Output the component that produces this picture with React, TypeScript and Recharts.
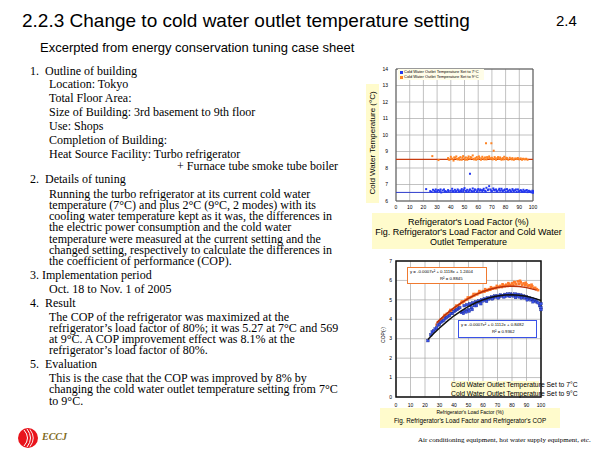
import React from 'react';
import { ScatterChart, Scatter, XAxis, YAxis, CartesianGrid, ReferenceLine, ReferenceArea } from 'recharts';

// ---- data ----
const loadTicks = [0, 10, 20, 30, 40, 50, 60, 70, 80, 90, 100];
const tempTicks = [6, 7, 8, 9, 10, 11, 12, 13, 14];
const copTicks = [0, 1, 2, 3, 4, 5, 6, 7];

const mean7 = 6.52;
const mean9 = 8.52;

// outlet temperature vs load factor, setting 7°C
const temp7 = [
  [22, 6.72], [25, 6.6], [26, 6.55], [27, 6.68], [28, 6.62], [29, 6.7], [30, 6.58], [31, 6.66], [32, 6.6], [33, 6.52],
  [34, 6.64], [35, 6.7], [36, 6.6], [37, 6.56], [38, 6.66], [40, 6.62], [41, 6.74], [42, 6.58], [43, 6.68], [44, 6.6],
  [45, 6.7], [46, 6.56], [47, 6.64], [48, 6.72], [49, 6.6], [50, 6.78], [51, 6.62], [52, 6.68], [53, 6.56], [54, 7.65],
  [54, 6.7], [55, 6.62], [56, 6.76], [57, 6.6], [58, 6.68], [59, 6.56], [60, 6.72], [61, 6.62], [62, 6.66], [63, 6.58],
  [64, 6.74], [65, 6.62], [66, 6.8], [67, 6.66], [68, 6.9], [69, 6.7], [70, 6.6], [71, 6.76], [72, 6.64], [73, 6.7],
  [74, 6.58], [75, 6.68], [76, 6.62], [77, 6.74], [78, 6.6], [79, 6.66], [80, 6.56], [81, 6.72], [82, 6.62], [83, 6.68],
  [84, 6.58], [85, 6.72], [86, 6.6], [87, 6.66], [88, 6.55], [89, 6.7], [90, 6.6], [91, 6.66], [92, 6.56], [93, 6.68],
  [94, 6.6], [95, 6.64], [96, 6.54], [97, 6.62], [98, 6.58], [99, 6.52], [100, 6.6], [100, 6.5],
  [28.5, 6.58], [30.5, 6.64], [32.5, 6.7], [35.5, 6.58], [38.5, 6.6], [41.5, 6.6], [43.5, 6.56], [45.5, 6.64],
  [47.5, 6.6], [49.5, 6.68], [51.5, 6.56], [53.5, 6.64], [55.5, 6.58], [57.5, 6.7], [59.5, 6.64], [61.5, 6.7],
  [63.5, 6.66], [65.5, 6.56], [67.5, 6.7], [69.5, 6.62], [71.5, 6.68], [73.5, 6.6], [75.5, 6.74], [77.5, 6.64],
  [79.5, 6.7], [81.5, 6.58], [83.5, 6.62], [85.5, 6.64], [87.5, 6.7], [89.5, 6.58], [91.5, 6.62], [93.5, 6.56],
  [95.5, 6.66], [97.5, 6.56], [99.5, 6.62],
];

// setting 9°C
const temp9 = [
  [26.5, 8.72], [31, 8.48],
  [38, 8.6], [39, 8.5], [40, 8.68], [41, 8.55], [42, 8.45], [43, 8.62], [44, 8.7], [45, 8.52], [46, 8.6], [47, 8.66],
  [48, 8.5], [49, 8.72], [50, 8.58], [51, 8.64], [52, 8.5], [53, 8.7], [54, 8.56], [55, 8.62], [56, 8.76], [57, 8.52],
  [58, 8.6], [59, 8.66], [60, 8.55], [61, 8.62], [62, 8.5], [63, 8.68], [64, 8.58], [65, 8.64], [65.7, 9.5], [66, 8.52],
  [67, 8.6], [68, 8.7], [69, 8.56], [69.6, 9.5], [70, 8.62], [71, 8.55], [71.3, 9.05], [72, 8.66], [73, 8.5], [74, 8.6],
  [75, 8.56], [76, 8.64], [77, 8.5], [78, 8.6], [79, 8.68], [80, 8.54], [81, 8.6], [82, 8.5], [83, 8.62], [84, 8.56],
  [85, 8.6], [86, 8.5], [87, 8.58], [88, 8.54], [89, 8.6], [90, 8.52], [91, 8.58], [92, 8.5], [93, 8.56], [94, 8.52],
  [95, 8.56], [96, 8.5],
  [38.5, 8.52], [40.5, 8.58], [42.5, 8.64], [44.5, 8.56], [46.5, 8.5], [48.5, 8.62], [50.5, 8.5], [52.5, 8.6],
  [54.5, 8.66], [56.5, 8.56], [58.5, 8.5], [60.5, 8.7], [62.5, 8.58], [64.5, 8.52], [66.5, 8.66], [68.5, 8.6],
  [70.5, 8.52], [72.5, 8.58], [74.5, 8.66], [76.5, 8.56], [78.5, 8.52], [80.5, 8.62], [84.5, 8.52], [88.5, 8.58],
  [92.5, 8.55],
];

// COP vs load factor, setting 9°C
const cop9 = [
  [28, 3.72], [29, 3.85], [30, 3.9], [31, 4.0], [32, 4.05], [33, 4.12], [34, 4.2], [35, 4.28], [36, 4.3], [37, 4.4],
  [38, 4.45], [39, 4.5], [40, 4.55], [41, 4.62], [42, 4.68], [43, 4.7], [44, 4.78], [45, 4.85], [46, 4.88], [47, 4.92],
  [48, 5.0], [49, 5.02], [50, 5.1], [51, 5.12], [52, 5.15], [53, 5.2], [54, 5.22], [55, 5.3], [56, 5.28], [57, 5.35],
  [58, 5.38], [59, 5.4], [60, 5.45], [61, 5.42], [62, 5.5], [63, 5.48], [64, 5.55], [65, 5.52], [66, 5.6], [67, 5.58],
  [68, 5.62], [69, 5.6], [70, 5.68], [71, 5.65], [72, 5.72], [73, 5.66], [74, 5.75], [75, 5.7], [76, 5.78], [77, 5.72],
  [78, 5.8], [79, 5.75], [80, 5.85], [81, 5.78], [82, 5.9], [83, 5.8], [84, 5.95], [85, 5.82], [86, 5.9], [87, 5.78],
  [88, 5.85], [89, 5.75], [90, 5.8], [91, 5.7], [92, 5.75], [93, 5.65], [94, 5.7], [95, 5.6], [96, 5.62], [97, 5.55],
  [98, 5.5],
  [33.5, 4.22], [37.5, 4.48], [41.5, 4.7], [45.5, 4.92], [49.5, 5.12], [53.5, 5.3], [57.5, 5.45], [61.5, 5.55],
  [65.5, 5.65], [69.5, 5.72], [73.5, 5.8], [77.5, 5.86], [81.5, 5.92], [85.5, 5.98], [89.5, 5.88], [93.5, 5.78],
];

// setting 7°C
const cop7 = [
  [22, 2.9], [24, 3.2], [25, 3.35], [26, 3.4], [27, 3.5], [28, 3.55], [29, 3.7], [30, 3.75], [31, 3.85], [32, 3.9],
  [33, 3.95], [34, 4.05], [35, 4.1], [36, 4.15], [37, 4.2], [38, 4.3], [39, 4.3], [40, 4.4], [41, 4.45], [42, 4.5],
  [43, 4.55], [44, 4.6], [45, 4.35], [46, 4.4], [47, 4.7], [48, 4.45], [49, 4.75], [50, 4.5], [51, 4.8], [52, 4.6],
  [53, 4.85], [54, 4.7], [55, 4.9], [56, 4.85], [57, 4.95], [58, 4.9], [59, 5.0], [60, 4.95], [61, 5.05], [62, 5.0],
  [63, 5.1], [64, 5.05], [65, 5.1], [66, 5.15], [67, 5.1], [68, 5.2], [69, 5.15], [70, 5.2], [71, 5.15], [72, 5.25],
  [73, 5.2], [74, 5.22], [75, 5.28], [76, 5.2], [77, 5.3], [78, 5.22], [79, 5.3], [80, 5.25], [81, 5.2], [82, 5.3],
  [83, 5.18], [84, 5.28], [85, 5.15], [86, 5.25], [87, 5.12], [88, 5.2], [89, 5.1], [90, 5.15], [91, 5.05], [92, 5.1],
  [93, 5.0], [94, 5.05], [95, 4.95], [96, 5.0], [97, 4.9], [98, 4.85], [99, 4.7], [100, 4.6], [100, 4.8], [100, 4.5],
  [46.5, 4.3], [48.5, 4.38], [50.5, 4.42], [52.5, 4.5], [55.5, 4.7], [58.5, 4.8], [62.5, 4.92], [66.5, 5.05],
  [70.5, 5.1], [74.5, 5.15], [78.5, 5.18], [82.5, 5.12], [86.5, 5.1], [90.5, 5.0], [94.5, 4.9],
];

// trend curves as drawn
const fit9 = [
  [28, 3.82], [32, 4.1], [36, 4.36], [40, 4.59], [45, 4.85], [50, 5.08], [55, 5.27], [60, 5.43],
  [65, 5.55], [70, 5.64], [75, 5.69], [80, 5.7], [85, 5.69], [90, 5.63], [97, 5.5],
];
const fit7 = [
  [22, 2.96], [26, 3.27], [30, 3.55], [35, 3.88], [40, 4.18], [45, 4.43], [50, 4.66], [55, 4.85], [60, 5.0],
  [65, 5.12], [70, 5.2], [75, 5.25], [80, 5.26], [85, 5.24], [90, 5.19], [95, 5.09], [100, 4.97],
];

const pts = (arr: number[][]) => arr.map(([x, y]) => ({ x, y }));

const serif = '"Liberation Serif", "Times New Roman", serif';
const sans = '"Liberation Sans", Arial, sans-serif';
const cream = '#fffbcc';

// text line placed by the visual middle of its glyphs
function T({ x, y, size, font = serif, children, style }: any) {
  const lh = 0.85;
  return (
    <div
      style={{
        position: 'absolute',
        left: x,
        top: y - size * 0.55 + ((1 - lh) / 2) * size,
        fontSize: size,
        fontFamily: font,
        lineHeight: lh,
        whiteSpace: 'nowrap',
        color: '#000',
        ...style,
      }}
    >
      {children}
    </div>
  );
}

// tight paragraph block; y = middle of the first line
function P({ x, y, gap, lines }: { x: number; y: number; gap: number; lines: string[] }) {
  return (
    <div
      style={{
        position: 'absolute',
        left: x,
        top: y - gap / 2 - 0.6,
        fontSize: 12,
        fontFamily: serif,
        lineHeight: `${gap}px`,
        whiteSpace: 'nowrap',
        color: '#000',
      }}
    >
      {lines.map((l, i) => (
        <React.Fragment key={i}>
          {l}
          {i < lines.length - 1 && <br />}
        </React.Fragment>
      ))}
    </div>
  );
}

const square = (fill: string, s: number, stroke?: string) => (p: any) =>
  <rect x={p.cx - s / 2} y={p.cy - s / 2} width={s} height={s} fill={fill} stroke={stroke} strokeWidth={0.4} />;
const none = () => <g />;
const tick = { fontSize: 5, fill: '#000', fontFamily: sans };

function TempChart() {
  return (
    <div style={{ position: 'absolute', left: 360, top: 60 }}>
      <ScatterChart width={180} height={155} margin={{ top: 9, right: 7, left: 16, bottom: 0 }}>
        <CartesianGrid stroke="#a8a8a8" strokeWidth={0.7} />
        <XAxis type="number" dataKey="x" domain={[0, 100]} ticks={loadTicks} interval={0} axisLine={false}
          tickLine={false} tickSize={2} tickMargin={2} height={14} tick={tick} />
        <YAxis type="number" dataKey="y" domain={[6, 14]} ticks={tempTicks} interval={0} axisLine={false}
          tickLine={false} tickSize={4} tickMargin={4} width={20} tick={tick} />
        <ReferenceArea x1={0} x2={100} y1={6} y2={14} fill="none" stroke="#555" strokeWidth={1} />
        <ReferenceLine y={mean9} stroke="#c83c10" strokeWidth={1.2} />
        <ReferenceLine y={mean7} stroke="#2e3ccc" strokeWidth={1} />
        <Scatter data={pts(temp9)} shape={square('#ff8424', 2)} isAnimationActive={false} />
        <Scatter data={pts(temp7)} shape={square('#2438f0', 2)} isAnimationActive={false} />
      </ScatterChart>
    </div>
  );
}

function CopChart() {
  return (
    <div style={{ position: 'absolute', left: 375, top: 252 }}>
      <ScatterChart width={172} height={160} margin={{ top: 9, right: 6, left: 1, bottom: 0 }}>
        <CartesianGrid stroke="#a8a8a8" strokeWidth={0.7} />
        <XAxis type="number" dataKey="x" domain={[0, 100]} ticks={loadTicks} interval={0} axisLine={false}
          tickLine={false} tickSize={3} tickMargin={3} height={15} tick={tick} />
        <YAxis type="number" dataKey="y" domain={[0, 7]} ticks={copTicks} interval={0} axisLine={false}
          tickLine={false} tickSize={2} tickMargin={2} width={20} tick={tick} />
        <ReferenceArea x1={0} x2={100} y1={0} y2={7} fill="none" stroke="#111" strokeWidth={1.5} />
        <Scatter data={pts(cop9)} shape={square('#ff7a2a', 2.6)} isAnimationActive={false} />
        <Scatter data={pts(cop7)} shape={square('#3a52e8', 2.6, '#1a2a90')} isAnimationActive={false} />
        <Scatter data={pts(fit9)} shape={none} line={{ stroke: '#b8300c', strokeWidth: 1.5 }} isAnimationActive={false} />
        <Scatter data={pts(fit7)} shape={none} line={{ stroke: '#111', strokeWidth: 1.5 }} isAnimationActive={false} />
      </ScatterChart>
    </div>
  );
}

function Logo() {
  return (
    <svg width={22} height={22} style={{ position: 'absolute', left: 17, top: 427 }}>
      <circle cx={11} cy={11} r={10} fill="#e8141c" />
      <path d="M7 3 Q14 11 7 19" stroke="#fff" strokeWidth={1} fill="none" />
      <path d="M10 2 Q17 11 10 20" stroke="#fff" strokeWidth={1} fill="none" />
      <path d="M13 2.5 Q19.5 11 13 19.5" stroke="#fff" strokeWidth={0.9} fill="none" />
    </svg>
  );
}

export default function App() {
  return (
    <div style={{ position: 'absolute', left: 0, top: 0, width: 600, height: 450, background: '#fff', overflow: 'hidden' }}>
      <T x={22} y={22} size={19} font={sans}>2.2.3 Change to cold water outlet temperature setting</T>
      <T x={556} y={22} size={15} font={sans}>2.4</T>
      <T x={40} y={48} size={13} font={sans}>Excerpted from energy conservation tuning case sheet</T>

      <T x={30} y={72} size={12}>1.</T><T x={45} y={72} size={12}>Outline of building</T>
      <T x={49} y={85} size={12}>Location: Tokyo</T>
      <T x={49} y={99} size={12}>Total Floor Area:</T>
      <T x={49} y={113} size={12}>Size of Building: 3rd basement to 9th floor</T>
      <T x={49} y={127} size={12}>Use: Shops</T>
      <T x={49} y={141} size={12}>Completion of Building:</T>
      <T x={49} y={155} size={12}>Heat Source Facility: Turbo refrigerator</T>
      <T x={177} y={167} size={12}>+ Furnace tube smoke tube boiler</T>
      <T x={30} y={180} size={12}>2.</T><T x={45} y={180} size={12}>Details of tuning</T>
      <P x={49} y={195} gap={11.17} lines={[
        'Running the turbo refrigerator at its current cold water',
        'temperature (7°C) and plus 2°C (9°C, 2 modes) with its',
        'cooling water temperature kept as it was, the differences in',
        'the electric power consumption and the cold water',
        'temperature were measured at the current setting and the',
        'changed setting, respectively to calculate the differences in',
        'the coefficient of performance (COP).',
      ]} />
      <T x={30} y={276} size={12}>3. Implementation period</T>
      <T x={49} y={290} size={12}>Oct. 18 to Nov. 1 of 2005</T>
      <T x={30} y={304} size={12}>4.</T><T x={45} y={304} size={12}>Result</T>
      <P x={49} y={318} gap={11} lines={[
        'The COP of the refrigerator was maximized at the',
        'refrigerator’s load factor of 80%; it was 5.27 at 7°C and 569',
        'at 9°C. A COP improvement effect was 8.1% at the',
        'refrigerator’s load factor of 80%.',
      ]} />
      <T x={30} y={365} size={12}>5.</T><T x={45} y={365} size={12}>Evaluation</T>
      <P x={49} y={379} gap={11.5} lines={[
        'This is the case that the COP was improved by 8% by',
        'changing the cold water outlet temperature setting from 7°C',
        'to 9°C.',
      ]} />

      <Logo />
      <T x={42} y={438} size={10} style={{ fontStyle: 'italic', fontWeight: 'bold', color: '#7d6a22' }}>ECCJ</T>
      <T x={418} y={441} size={7}>Air conditioning equipment, hot water supply equipment, etc.</T>

      {/* upper chart */}
      <div style={{ position: 'absolute', left: 366, top: 84, width: 13, height: 119, background: cream }} />
      <div style={{ position: 'absolute', left: 373, top: 143, transform: 'translate(-50%, -50%) rotate(-90deg)', fontFamily: sans, fontSize: 8, whiteSpace: 'nowrap', lineHeight: 1 }}>
        Cold Water Temperature (°C)
      </div>
      <TempChart />
      <div style={{ position: 'absolute', left: 398, top: 69, width: 86, height: 11, background: '#fffde8' }} />
      <div style={{ position: 'absolute', left: 400, top: 71, width: 2.5, height: 2.5, background: '#2438f0' }} />
      <div style={{ position: 'absolute', left: 400, top: 76, width: 2.5, height: 2.5, background: '#ff8424' }} />
      <T x={404} y={72.3} size={4} font={sans}>Cold Water Outlet Temperature Set to 7°C</T>
      <T x={404} y={77.3} size={4} font={sans}>Cold Water Outlet Temperature Set to 9°C</T>

      <div style={{ position: 'absolute', left: 372, top: 213, width: 193, height: 36, background: cream }} />
      <div style={{ position: 'absolute', left: 372, top: 217, width: 193, textAlign: 'center', fontFamily: sans, fontSize: 9, lineHeight: '10px' }}>
        Refrigerator's Load Factor (%)<br />Fig. Refrigerator's Load Factor and Cold Water<br />Outlet Temperature
      </div>

      {/* lower chart */}
      <div style={{ position: 'absolute', left: 383, top: 335, transform: 'translate(-50%, -50%) rotate(-90deg)', fontFamily: sans, fontSize: 5, whiteSpace: 'nowrap', lineHeight: 1 }}>
        COP(-)
      </div>
      <CopChart />
      <div style={{ position: 'absolute', left: 407, top: 267, width: 78, height: 15, background: '#fff', border: '1px solid #f07a30' }} />
      <T x={410} y={272.5} size={4.3} font={sans}>y = -0.0007x² + 0.1118x + 1.2404</T>
      <T x={440} y={279} size={4.3} font={sans}>R² = 0.8845</T>
      <div style={{ position: 'absolute', left: 458, top: 320, width: 77, height: 16, background: '#fff', border: '1px solid #3a52e8' }} />
      <T x={461} y={325.5} size={4.3} font={sans}>y = -0.0007x² + 0.1112x + 0.8482</T>
      <T x={492} y={332} size={4.3} font={sans}>R² = 0.9362</T>

      <div style={{ position: 'absolute', left: 451, top: 381, width: 88, height: 15, background: cream }} />
      <T x={451} y={385.5} size={6.8} font={sans}>Cold Water Outlet Temperature Set to 7°C</T>
      <T x={451} y={394} size={6.8} font={sans}>Cold Water Outlet Temperature Set to 9°C</T>

      <div style={{ position: 'absolute', left: 380, top: 408, width: 180, height: 20, background: cream }} />
      <div style={{ position: 'absolute', left: 380, top: 409.5, width: 180, textAlign: 'center', fontFamily: sans, fontSize: 5, lineHeight: 1 }}>
        Refrigerator's Load Factor (%)
      </div>
      <div style={{ position: 'absolute', left: 380, top: 417.5, width: 180, textAlign: 'center', fontFamily: sans, fontSize: 6.3, lineHeight: 1 }}>
        Fig. Refrigerator's Load Factor and Refrigerator's COP
      </div>
    </div>
  );
}
